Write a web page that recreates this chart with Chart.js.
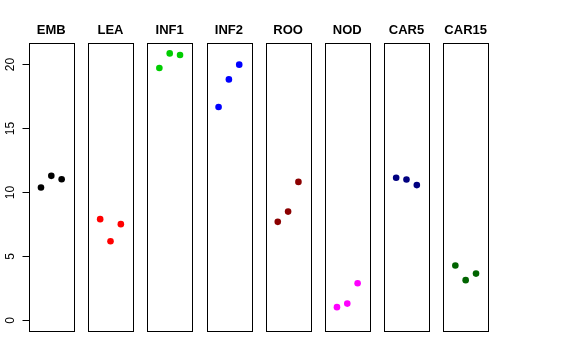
<!DOCTYPE html>
<html>
<head>
<meta charset="utf-8">
<script src="https://cdn.jsdelivr.net/npm/chart.js@4"></script>
<style>
  html, body { margin: 0; padding: 0; background: #fff; }
  #wrap { width: 576px; height: 360px; }
</style>
</head>
<body>
<div id="wrap"><canvas id="chart" width="576" height="360"></canvas></div>
<script>
// groups and their values (3 replicates each)
const groups = ['EMB', 'LEA', 'INF1', 'INF2', 'ROO', 'NOD', 'CAR5', 'CAR15'];
const colors = ['#000000', '#FF0000', '#00CD00', '#0000FF', '#8B0000', '#FF00FF', '#000080', '#006400'];
const replicate = [1, 2, 3];
const emb = [10.36, 11.27, 11.0];
const lea = [7.89, 6.17, 7.5];
const inf1 = [19.69, 20.83, 20.7];
const inf2 = [16.64, 18.8, 19.95];
const roo = [7.68, 8.48, 10.8];
const nod = [1.02, 1.3, 2.89];
const car5 = [11.12, 10.98, 10.55];
const car15 = [4.27, 3.13, 3.64];
const yTicks = [0, 5, 10, 15, 20];

const series = [emb, lea, inf1, inf2, roo, nod, car5, car15];

// each panel spans x in [0,4] (+4% like R), panels placed side by side
const pitch = 5.73;
const xLo = -0.16, xHi = 4.16;
const yLo = -0.84, yHi = 21.64;

const datasets = series.map((vals, i) => ({
  label: groups[i],
  data: vals.map((v, j) => ({ x: i * pitch + replicate[j], y: v })),
  backgroundColor: colors[i],
  borderColor: colors[i],
  pointRadius: 3.3,
  pointHoverRadius: 3.3,
  borderWidth: 0
}));

const panels = {
  id: 'panels',
  afterDatasetsDraw(chart) {
    const ctx = chart.ctx;
    const x = chart.scales.x, y = chart.scales.y;
    const top = y.getPixelForValue(yHi), bottom = y.getPixelForValue(yLo);
    ctx.save();
    ctx.strokeStyle = '#000';
    ctx.lineWidth = 1;
    ctx.fillStyle = '#000';
    ctx.font = 'bold 13px "Liberation Sans", Arial, sans-serif';
    ctx.textAlign = 'center';
    ctx.textBaseline = 'alphabetic';
    groups.forEach((g, i) => {
      const l = x.getPixelForValue(i * pitch + xLo);
      const r = x.getPixelForValue(i * pitch + xHi);
      ctx.strokeRect(Math.round(l) + 0.5, Math.round(top) + 0.5, Math.round(r - l), Math.round(bottom - top));
      ctx.fillText(g, (l + r) / 2, 34);
    });
    // left axis: ticks and rotated labels
    const ax = Math.round(x.getPixelForValue(xLo)) + 0.5;
    ctx.font = '12px "Liberation Sans", Arial, sans-serif';
    yTicks.forEach(t => {
      const py = Math.round(y.getPixelForValue(t)) + 0.5;
      ctx.beginPath();
      ctx.moveTo(ax - 7, py);
      ctx.lineTo(ax, py);
      ctx.stroke();
      ctx.save();
      ctx.translate(14, py);
      ctx.rotate(-Math.PI / 2);
      ctx.textAlign = 'center';
      ctx.textBaseline = 'alphabetic';
      ctx.fillText(String(t), 0, 0);
      ctx.restore();
    });
    ctx.restore();
  }
};

new Chart(document.getElementById('chart'), {
  type: 'scatter',
  data: { datasets: datasets },
  options: {
    responsive: false,
    animation: false,
    layout: { padding: { left: 29, right: 88, top: 43, bottom: 29 } },
    plugins: { legend: { display: false }, title: { display: false }, tooltip: { enabled: false } },
    scales: {
      x: { type: 'linear', display: false, min: xLo, max: (groups.length - 1) * pitch + xHi },
      y: { type: 'linear', display: false, min: yLo, max: yHi }
    },
    elements: { point: { borderWidth: 0 } },
    clip: false
  },
  plugins: [panels]
});
</script>
</body>
</html>
